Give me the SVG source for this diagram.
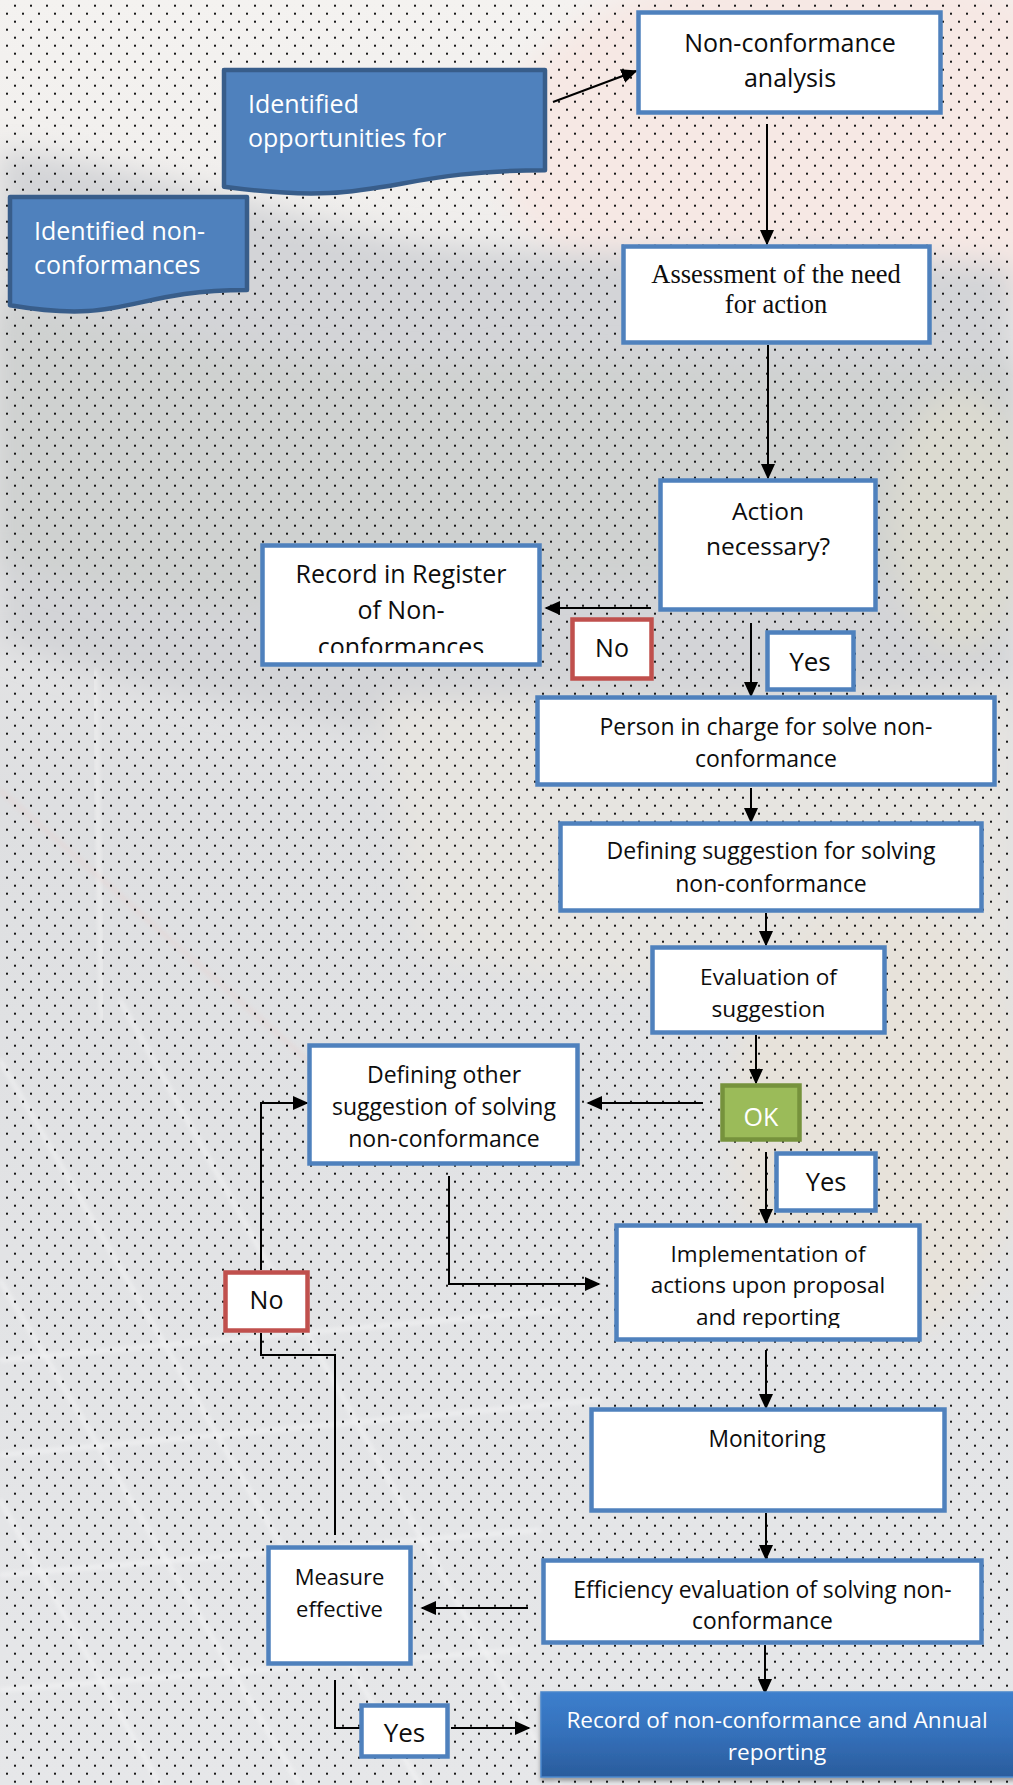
<svg xmlns="http://www.w3.org/2000/svg" width="1013" height="1785" viewBox="0 0 1013 1785">
  <defs>
    <style>
      .box { fill: #ffffff; stroke: #4f81bd; stroke-width: 4.5; }
      .no { fill: #ffffff; stroke: #c0504d; stroke-width: 4.5; }
      .ok { fill: #9bbb59; stroke: #76923c; stroke-width: 4.5; }
      .doc { fill: #4f81bd; stroke: #385d8a; stroke-width: 4.5; stroke-linejoin: round; }
      .t { font-family: 'Open Sans', 'Noto Sans', 'DejaVu Sans', sans-serif; fill: #0d0d0d; text-anchor: middle; }
      .w { fill: #ffffff; }
      .l { text-anchor: start; }
      .serif { font-family: 'Liberation Serif', 'Times New Roman', serif; }
      .conn { fill: none; stroke: #000000; stroke-width: 2; }
      .arr { marker-end: url(#head); }
    </style>
    <marker id="head" viewBox="0 0 10 10" refX="9" refY="5" markerWidth="16" markerHeight="16" markerUnits="userSpaceOnUse" orient="auto">
      <path d="M0,0.5 L10,5 L0,9.5 z" fill="#000000"/>
    </marker>
    <pattern id="dots" width="16" height="16" patternUnits="userSpaceOnUse">
      <rect x="14" y="4.7" width="2" height="2" fill="#1a1a1a"/>
      <rect x="6" y="12.7" width="2" height="2" fill="#1a1a1a"/>
    </pattern>
    <linearGradient id="sky" x1="0" y1="0" x2="0" y2="1">
      <stop offset="0" stop-color="#f4f2f0"/>
      <stop offset="0.1" stop-color="#f1efed"/>
      <stop offset="0.45" stop-color="#dedfe1"/>
      <stop offset="0.7" stop-color="#e2e3e5"/>
      <stop offset="1" stop-color="#e6e7e9"/>
    </linearGradient>
    <linearGradient id="annual" x1="0" y1="0" x2="0" y2="1">
      <stop offset="0" stop-color="#3d7fcd"/>
      <stop offset="0.5" stop-color="#3470ba"/>
      <stop offset="1" stop-color="#2a5c9c"/>
    </linearGradient>
    <filter id="soft" x="-20%" y="-20%" width="140%" height="140%">
      <feGaussianBlur stdDeviation="14"/>
    </filter>
    <filter id="soft2" x="-10%" y="-10%" width="120%" height="120%">
      <feGaussianBlur stdDeviation="2"/>
    </filter>
    <filter id="shadow" x="-5%" y="-10%" width="110%" height="130%">
      <feDropShadow dx="0" dy="3" stdDeviation="2" flood-color="#000000" flood-opacity="0.35"/>
    </filter>
    <clipPath id="clipRegister"><rect x="262" y="545" width="278" height="108"/></clipPath>
    <clipPath id="clipImpl"><rect x="616" y="1225" width="304" height="103"/></clipPath>
  </defs>

  <!-- faded photographic backdrop -->
  <g id="backdrop">
    <rect x="0" y="0" width="1013" height="1785" fill="url(#sky)"/>
    <ellipse cx="820" cy="150" rx="320" ry="190" fill="#f6e8e4" filter="url(#soft)"/>
    <path d="M0,150 C120,160 240,205 380,235 C520,262 700,245 1013,265 L1013,720 C820,690 620,770 380,730 C250,705 120,690 0,640 Z" fill="#d3d4d7" filter="url(#soft)"/>
    <path d="M0,300 C150,330 300,380 500,360 C650,350 800,380 1013,360 L1013,560 C800,600 600,560 400,600 C250,620 120,600 0,560 Z" fill="#cfd1d0" filter="url(#soft)"/>
    <ellipse cx="960" cy="520" rx="70" ry="130" fill="#dbdad0" filter="url(#soft)"/>
    <path d="M380,700 C520,690 700,720 1013,680 L1013,1000 C820,980 600,1000 420,950 Z" fill="#e6e4e0" filter="url(#soft)"/>
    <ellipse cx="880" cy="1120" rx="150" ry="220" fill="#e7e2da" filter="url(#soft)"/>
    <line x1="95" y1="670" x2="102" y2="1020" stroke="#f2f2f2" stroke-width="3" filter="url(#soft2)"/>
    <line x1="0" y1="790" x2="330" y2="1080" stroke="#e6cdca" stroke-width="5" opacity="0.35" filter="url(#soft2)"/>
    <g stroke="#ffffff" stroke-width="3" opacity="0.55" filter="url(#soft2)">
      <line x1="0" y1="1060" x2="420" y2="1785"/>
      <line x1="0" y1="1280" x2="300" y2="1785"/>
      <line x1="0" y1="1500" x2="160" y2="1785"/>
      <line x1="120" y1="1000" x2="560" y2="1785"/>
      <line x1="0" y1="1360" x2="560" y2="1310"/>
      <line x1="0" y1="1455" x2="600" y2="1400"/>
      <line x1="0" y1="1575" x2="540" y2="1530"/>
      <line x1="0" y1="1690" x2="520" y2="1650"/>
    </g>
    <rect x="0" y="0" width="1013" height="1785" fill="url(#dots)"/>
  </g>

  <!-- connectors -->
  <g id="connectors">
    <line class="conn arr" x1="553" y1="102" x2="636" y2="71"/>
    <line class="conn arr" x1="767" y1="124" x2="767" y2="244"/>
    <line class="conn arr" x1="768" y1="345" x2="768" y2="478"/>
    <line class="conn arr" x1="651" y1="608" x2="546" y2="608"/>
    <line class="conn arr" x1="751" y1="623" x2="751" y2="696"/>
    <line class="conn arr" x1="751" y1="788" x2="751" y2="822"/>
    <line class="conn arr" x1="766" y1="913" x2="766" y2="945"/>
    <line class="conn arr" x1="756" y1="1035" x2="756" y2="1083"/>
    <line class="conn arr" x1="703" y1="1103" x2="588" y2="1103"/>
    <line class="conn arr" x1="766" y1="1152" x2="766" y2="1223"/>
    <polyline class="conn arr" points="449,1176 449,1284 599,1284"/>
    <polyline class="conn arr" points="261,1270 261,1103 307,1103"/>
    <polyline class="conn" points="261,1333 261,1355 335,1355 335,1535"/>
    <line class="conn arr" x1="766" y1="1350" x2="766" y2="1408"/>
    <line class="conn arr" x1="766" y1="1513" x2="766" y2="1559"/>
    <line class="conn arr" x1="528" y1="1608" x2="422" y2="1608"/>
    <line class="conn arr" x1="765" y1="1645" x2="765" y2="1693"/>
    <polyline class="conn" points="335,1680 335,1728 360,1728"/>
    <line class="conn arr" x1="451" y1="1728" x2="529" y2="1728"/>
  </g>

  <g id="node-opportunities">
    <path class="doc" d="M224,70 H545 V170.3 C384.5,170.3 384.5,208.4 224,186.8 Z"/>
    <text class="t w l" font-size="25" x="248" y="113">Identified</text>
    <text class="t w l" font-size="25" x="248" y="147">opportunities for</text>
  </g>

  <g id="node-identified">
    <path class="doc" d="M10,197 H247 V290 C128.5,290 128.5,325.4 10,305.3 Z"/>
    <text class="t w l" font-size="25" x="34" y="240">Identified non-</text>
    <text class="t w l" font-size="25" x="34" y="274">conformances</text>
  </g>

  <g id="node-analysis">
    <rect class="box" x="638.5" y="12.5" width="302" height="100"/>
    <text class="t" font-size="25" x="790" y="52">Non-conformance</text>
    <text class="t" font-size="25" x="790" y="87">analysis</text>
  </g>

  <g id="node-assessment">
    <rect class="box" x="623.5" y="246.5" width="306" height="96"/>
    <text class="t serif" font-size="26.5" x="776" y="283">Assessment of the need</text>
    <text class="t serif" font-size="26.5" x="776" y="313">for action</text>
  </g>

  <g id="node-action">
    <rect class="box" x="660.5" y="480.5" width="215" height="129"/>
    <text class="t" font-size="24.5" x="768" y="520">Action</text>
    <text class="t" font-size="24.5" x="768" y="555">necessary?</text>
  </g>

  <g id="node-register">
    <rect class="box" x="262.5" y="545.5" width="277" height="119"/>
    <g clip-path="url(#clipRegister)">
      <text class="t" font-size="25" x="401" y="583">Record in Register</text>
      <text class="t" font-size="25" x="401" y="619">of Non-</text>
      <text class="t" font-size="25" x="401" y="656">conformances</text>
    </g>
  </g>

  <g id="label-no-1">
    <rect class="no" x="572.5" y="619.5" width="79" height="59"/>
    <text class="t" font-size="25" x="612" y="657">No</text>
  </g>

  <g id="label-yes-1">
    <rect class="box" x="767.5" y="632.5" width="86" height="57"/>
    <text class="t" font-size="26" x="810" y="671">Yes</text>
  </g>

  <g id="node-person">
    <rect class="box" x="537.5" y="697.5" width="457" height="87"/>
    <text class="t" font-size="23" x="766" y="735">Person in charge for solve non-</text>
    <text class="t" font-size="23" x="766" y="767">conformance</text>
  </g>

  <g id="node-defining">
    <rect class="box" x="560.5" y="823.5" width="421" height="87"/>
    <text class="t" font-size="23" x="771" y="859">Defining suggestion for solving</text>
    <text class="t" font-size="23" x="771" y="892">non-conformance</text>
  </g>

  <g id="node-evaluation">
    <rect class="box" x="652.5" y="947.5" width="232" height="85"/>
    <text class="t" font-size="22.6" x="768.5" y="985">Evaluation of</text>
    <text class="t" font-size="22.6" x="768.5" y="1017">suggestion</text>
  </g>

  <g id="node-other">
    <rect class="box" x="309.5" y="1045.5" width="268" height="118"/>
    <text class="t" font-size="23" x="444" y="1083">Defining other</text>
    <text class="t" font-size="23" x="444" y="1115">suggestion of solving</text>
    <text class="t" font-size="23" x="444" y="1147">non-conformance</text>
  </g>

  <g id="label-ok">
    <rect class="ok" x="722.5" y="1085.5" width="77" height="54"/>
    <text class="t w" font-size="25" x="761" y="1126">OK</text>
  </g>

  <g id="label-yes-2">
    <rect class="box" x="776.5" y="1153.5" width="99" height="57"/>
    <text class="t" font-size="25.5" x="826" y="1191">Yes</text>
  </g>

  <g id="node-implementation">
    <rect class="box" x="616.5" y="1225.5" width="303" height="114"/>
    <g clip-path="url(#clipImpl)">
      <text class="t" font-size="22.5" x="768" y="1262">Implementation of</text>
      <text class="t" font-size="22.5" x="768" y="1293">actions upon proposal</text>
      <text class="t" font-size="22.5" x="768" y="1325">and reporting</text>
    </g>
  </g>

  <g id="label-no-2">
    <rect class="no" x="225.5" y="1272.5" width="82" height="58"/>
    <text class="t" font-size="25" x="266.5" y="1309">No</text>
  </g>

  <g id="node-monitoring">
    <rect class="box" x="591.5" y="1409.5" width="353" height="101"/>
    <text class="t" font-size="22.8" x="767" y="1447">Monitoring</text>
  </g>

  <g id="node-efficiency">
    <rect class="box" x="543.5" y="1560.5" width="438" height="82"/>
    <text class="t" font-size="22.8" x="762.5" y="1598">Efficiency evaluation of solving non-</text>
    <text class="t" font-size="22.8" x="762.5" y="1629">conformance</text>
  </g>

  <g id="node-measure">
    <rect class="box" x="268.5" y="1547.5" width="142" height="116"/>
    <text class="t" font-size="22" x="339.5" y="1585">Measure</text>
    <text class="t" font-size="22" x="339.5" y="1617">effective</text>
  </g>

  <g id="label-yes-3">
    <rect class="box" x="361.5" y="1705.5" width="86" height="51"/>
    <text class="t" font-size="26" x="404.5" y="1742">Yes</text>
  </g>

  <g id="node-annual">
    <rect x="541" y="1692" width="474" height="85" fill="url(#annual)" stroke="#4a86cc" stroke-width="1.5" filter="url(#shadow)"/>
    <text class="t w" font-size="22.6" x="777" y="1728">Record of non-conformance and Annual</text>
    <text class="t w" font-size="22.6" x="777" y="1760">reporting</text>
  </g>
</svg>
